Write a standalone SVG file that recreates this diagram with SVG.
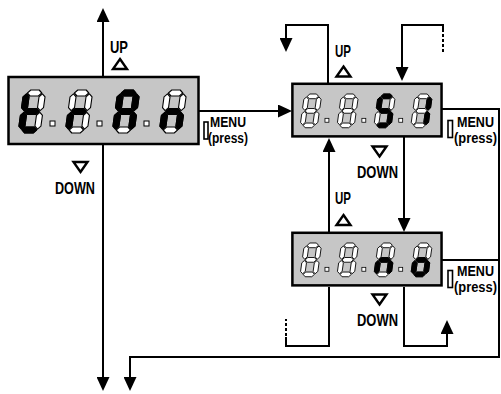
<svg xmlns="http://www.w3.org/2000/svg" xmlns:xlink="http://www.w3.org/1999/xlink" width="501" height="394" viewBox="0 0 501 394">
<style>
.ln{fill:none;stroke:#000;stroke-width:2}
.dash{fill:none;stroke:#000;stroke-width:2;stroke-dasharray:3 2}
.box{fill:#c6c6c6;stroke:#000;stroke-width:2.5}
.box2{fill:#c6c6c6;stroke:#000;stroke-width:3.2}
.off{fill:#fff;stroke:#000;stroke-width:1.1;stroke-linejoin:round}
.on{fill:#000;stroke:#000;stroke-width:1.1;stroke-linejoin:round}
.dot{fill:#fff;stroke:#000;stroke-width:1}
.tri{fill:#fff;stroke:#000;stroke-width:2.4;stroke-linejoin:miter}
.btn{fill:#fff;stroke:#000;stroke-width:1.6}
.t{font-family:"Liberation Sans Narrow","Liberation Sans",Arial,sans-serif;font-weight:bold;font-size:16.5px;fill:#000}
.m{font-family:"Liberation Sans Narrow","Liberation Sans",Arial,sans-serif;font-weight:bold;font-size:14.5px;fill:#000}
</style>
<defs>
<marker id="ah" viewBox="0 0 14 13" refX="10" refY="6.5" markerWidth="14" markerHeight="13" markerUnits="userSpaceOnUse" orient="auto">
<path d="M0,0 L14,6.5 L0,13 Z" fill="#000"/>
</marker>
<path id="sa" d="M3.8,3 L6.8,0 L15.2,0 L18.2,3 L15.2,6 L6.8,6 Z"/>
<path id="sg" d="M3.8,21.5 L6.8,18.5 L15.2,18.5 L18.2,21.5 L15.2,24.5 L6.8,24.5 Z"/>
<path id="sd" d="M3.8,40 L6.8,37 L15.2,37 L18.2,40 L15.2,43 L6.8,43 Z"/>
<path id="sf" d="M3,3.8 L6,6.8 L6,17.7 L3,20.7 L0,17.7 L0,6.8 Z"/>
<path id="sb" d="M19,3.8 L22,6.8 L22,17.7 L19,20.7 L16,17.7 L16,6.8 Z"/>
<path id="se" d="M3,22.3 L6,25.3 L6,36.2 L3,39.2 L0,36.2 L0,25.3 Z"/>
<path id="sc" d="M19,22.3 L22,25.3 L22,36.2 L19,39.2 L16,36.2 L16,25.3 Z"/>
<g id="d8" class="off">
<use href="#sa"/><use href="#sb"/><use href="#sc"/><use href="#sd"/><use href="#se"/><use href="#sf"/><use href="#sg"/>
</g>
<g id="dots">
<rect class="dot" x="50" y="121" width="5" height="5"/>
<rect class="dot" x="97" y="121" width="5" height="5"/>
<rect class="dot" x="144" y="121" width="5" height="5"/>
</g>
<path id="triup" class="tri" d="M0,-5 L7,5 L-7,5 Z"/>
<path id="tridn" class="tri" d="M0,5 L7,-5 L-7,-5 Z"/>
</defs>
<rect width="501" height="394" fill="#fff"/>

<g id="connectors">
<path class="ln" d="M103,76 V12" marker-end="url(#ah)"/>
<path class="ln" d="M103,145 V387" marker-end="url(#ah)"/>
<path class="ln" d="M199,111 H288" marker-end="url(#ah)"/>
<path class="ln" d="M328,83 V25 H286 V48" marker-end="url(#ah)"/>
<path class="ln" d="M443,32 V25 H402 V77" marker-end="url(#ah)"/>
<path class="dash" d="M443,34 V52"/>
<path class="ln" d="M404,137 V228" marker-end="url(#ah)"/>
<path class="ln" d="M329,232 V142" marker-end="url(#ah)"/>
<path class="ln" d="M329,287 V346 H286 V337"/>
<path class="dash" d="M286,336 V319"/>
<path class="ln" d="M404,287 V346 H447 V324" marker-end="url(#ah)"/>
<path class="ln" d="M442,109 H499 V357 H130 V387" marker-end="url(#ah)"/>
<path class="ln" d="M442,260 H499"/>
</g>

<g id="display-tran">
<rect class="box" x="8.5" y="77" width="190" height="67"/>
<g transform="translate(24,90) skewX(-8)"><use href="#d8"/><use class="on" href="#sf"/><use class="on" href="#se"/><use class="on" href="#sg"/><use class="on" href="#sd"/></g>
<g transform="translate(71,90) skewX(-8)"><use href="#d8"/><use class="on" href="#se"/><use class="on" href="#sg"/></g>
<g transform="translate(118,90) skewX(-8)"><use href="#d8"/><use class="on" href="#sa"/><use class="on" href="#sb"/><use class="on" href="#sc"/><use class="on" href="#se"/><use class="on" href="#sf"/><use class="on" href="#sg"/></g>
<g transform="translate(165,90) skewX(-8)"><use href="#d8"/><use class="on" href="#sc"/><use class="on" href="#se"/><use class="on" href="#sg"/></g>
<use href="#dots"/>
<text class="t" x="110" y="53" textLength="18" lengthAdjust="spacingAndGlyphs">UP</text>
<use href="#triup" x="120" y="64"/>
<use href="#tridn" x="80.5" y="167"/>
<text class="t" x="55" y="194" textLength="40" lengthAdjust="spacingAndGlyphs">DOWN</text>
<rect class="btn" x="204" y="122" width="4" height="17"/>
<text class="m" x="210" y="127" textLength="36" lengthAdjust="spacingAndGlyphs">MENU</text>
<text class="m" x="208" y="143" textLength="40" lengthAdjust="spacingAndGlyphs">(press)</text>
</g>

<g id="display-si">
<g transform="translate(292,83) scale(0.785) translate(-8,-76)">
<rect class="box2" x="8.5" y="77" width="190" height="67"/>
<g transform="translate(24,90) skewX(-8)"><use href="#d8"/></g>
<g transform="translate(71,90) skewX(-8)"><use href="#d8"/></g>
<g transform="translate(118,90) skewX(-8)"><use href="#d8"/><use class="on" href="#sa"/><use class="on" href="#sf"/><use class="on" href="#sg"/><use class="on" href="#sc"/><use class="on" href="#sd"/></g>
<g transform="translate(165,90) skewX(-8)"><use href="#d8"/><use class="on" href="#sb"/><use class="on" href="#sc"/></g>
<use href="#dots"/>
</g>
<text class="t" x="335" y="57" textLength="16" lengthAdjust="spacingAndGlyphs">UP</text>
<use href="#triup" x="343.5" y="71.5"/>
<use href="#tridn" x="379.5" y="151.5"/>
<text class="t" x="357" y="178" textLength="41" lengthAdjust="spacingAndGlyphs">DOWN</text>
<rect class="btn" x="448" y="120.5" width="4.5" height="17"/>
<text class="m" x="457" y="127" textLength="37" lengthAdjust="spacingAndGlyphs">MENU</text>
<text class="m" x="454" y="143" textLength="43" lengthAdjust="spacingAndGlyphs">(press)</text>
</g>

<g id="display-no">
<g transform="translate(292,232) scale(0.785) translate(-8,-76)">
<rect class="box2" x="8.5" y="77" width="190" height="67"/>
<g transform="translate(24,90) skewX(-8)"><use href="#d8"/></g>
<g transform="translate(71,90) skewX(-8)"><use href="#d8"/></g>
<g transform="translate(118,90) skewX(-8)"><use href="#d8"/><use class="on" href="#sc"/><use class="on" href="#se"/><use class="on" href="#sg"/></g>
<g transform="translate(165,90) skewX(-8)"><use href="#d8"/><use class="on" href="#sc"/><use class="on" href="#sd"/><use class="on" href="#se"/><use class="on" href="#sg"/></g>
<use href="#dots"/>
</g>
<text class="t" x="335" y="204" textLength="16" lengthAdjust="spacingAndGlyphs">UP</text>
<use href="#triup" x="343.5" y="220"/>
<use href="#tridn" x="379.5" y="299.5"/>
<text class="t" x="357" y="326" textLength="41" lengthAdjust="spacingAndGlyphs">DOWN</text>
<rect class="btn" x="448" y="270.5" width="4.5" height="17"/>
<text class="m" x="457" y="276" textLength="37" lengthAdjust="spacingAndGlyphs">MENU</text>
<text class="m" x="454" y="292" textLength="43" lengthAdjust="spacingAndGlyphs">(press)</text>
</g>
</svg>
